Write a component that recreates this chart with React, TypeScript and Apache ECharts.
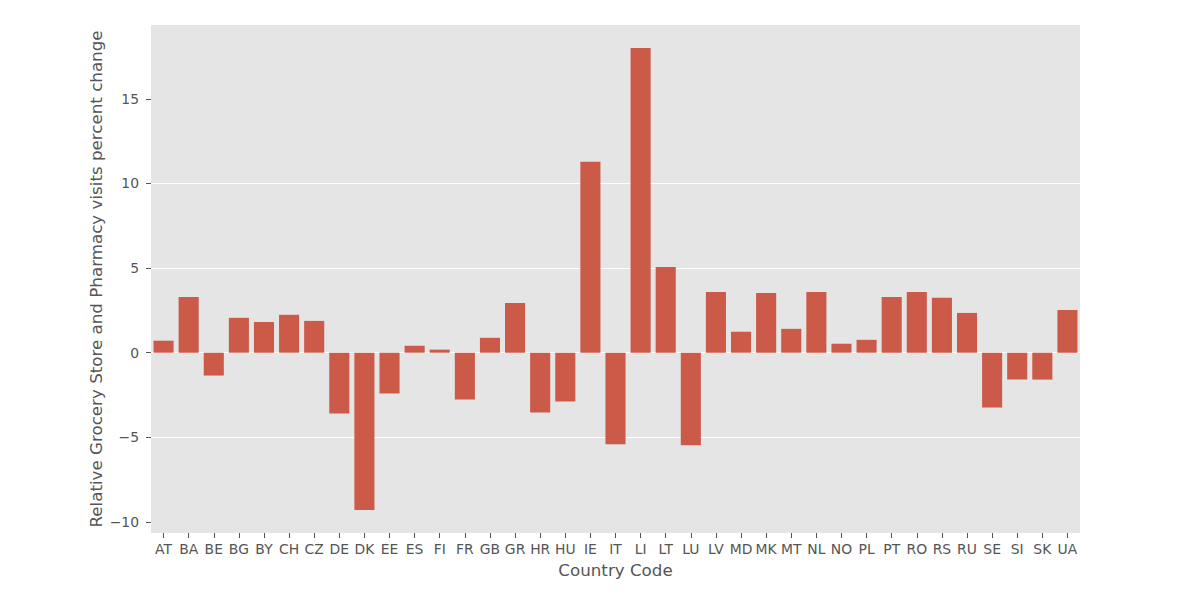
import React, { useEffect, useRef } from "react";
import * as echarts from "echarts";

const countryCodes = [
  "AT", "BA", "BE", "BG", "BY", "CH", "CZ", "DE", "DK", "EE", "ES", "FI", "FR",
  "GB", "GR", "HR", "HU", "IE", "IT", "LI", "LT", "LU", "LV", "MD", "MK", "MT",
  "NL", "NO", "PL", "PT", "RO", "RS", "RU", "SE", "SI", "SK", "UA",
];

const percentChange = [
  0.71, 3.29, -1.35, 2.06, 1.82, 2.24, 1.88, -3.59, -9.29, -2.41, 0.41, 0.18, -2.76,
  0.88, 2.94, -3.53, -2.88, 11.29, -5.41, 18.0, 5.06, -5.47, 3.59, 1.24, 3.53, 1.41,
  3.59, 0.53, 0.76, 3.29, 3.59, 3.24, 2.35, -3.24, -1.59, -1.59, 2.53,
];

const yTicks = [-10, -5, 0, 5, 10, 15];

const xLabel = "Country Code";
const yLabel = "Relative Grocery Store and Pharmacy visits percent change";

export default function App() {
  const ref = useRef<HTMLDivElement>(null);

  useEffect(() => {
    if (!ref.current) return;
    const chart = echarts.init(ref.current, null, { renderer: "svg" });
    const maxV = Math.max(...percentChange);
    const minV = Math.min(...percentChange);
    const pad = (maxV - minV) * 0.05;
    const font = "DejaVu Sans";
    const gray = "#555555";
    chart.setOption({
      animation: false,
      backgroundColor: "#ffffff",
      grid: {
        left: 151,
        right: 120,
        top: 25,
        bottom: 67,
        show: true,
        backgroundColor: "#E5E5E5",
        borderWidth: 0,
      },
      xAxis: {
        type: "category",
        data: countryCodes,
        name: xLabel,
        nameLocation: "middle",
        nameGap: 28,
        nameMoveOverlap: false,
        nameTextStyle: { color: gray, fontSize: 16.7, fontFamily: font },
        axisLine: { show: false, onZero: false },
        axisTick: {
          show: true,
          alignWithLabel: true,
          length: 5,
          lineStyle: { color: gray, width: 1 },
        },
        axisLabel: {
          color: gray,
          fontSize: 13.9,
          fontFamily: font,
          margin: 9,
          interval: 0,
        },
        splitLine: { show: false },
      },
      yAxis: {
        type: "value",
        min: minV - pad,
        max: maxV + pad,
        minInterval: 5,
        maxInterval: 5,
        name: yLabel,
        nameLocation: "middle",
        nameGap: 47,
        nameMoveOverlap: false,
        nameRotate: 90,
        nameTextStyle: { color: gray, fontSize: 16.7, fontFamily: font },
        axisLine: { show: false },
        axisTick: {
          show: true,
          length: 5,
          customValues: yTicks,
          lineStyle: { color: gray, width: 1 },
        },
        axisLabel: {
          color: gray,
          fontSize: 13.9,
          fontFamily: font,
          margin: 12,
          customValues: yTicks,
          formatter: (v: number) => (v < 0 ? "\u2212" + Math.abs(v) : String(v)),
        },
        splitLine: {
          show: true,
          showMinLine: false,
          showMaxLine: false,
          lineStyle: { color: "#ffffff", width: 1 },
        },
      },
      series: [
        {
          type: "bar",
          data: percentChange,
          barWidth: "80%",
          itemStyle: { color: "#CC5A49" },
        },
      ],
    });
    return () => chart.dispose();
  }, []);

  return (
    <div
      ref={ref}
      style={{ position: "absolute", left: 0, top: 0, width: 1200, height: 600 }}
    />
  );
}
